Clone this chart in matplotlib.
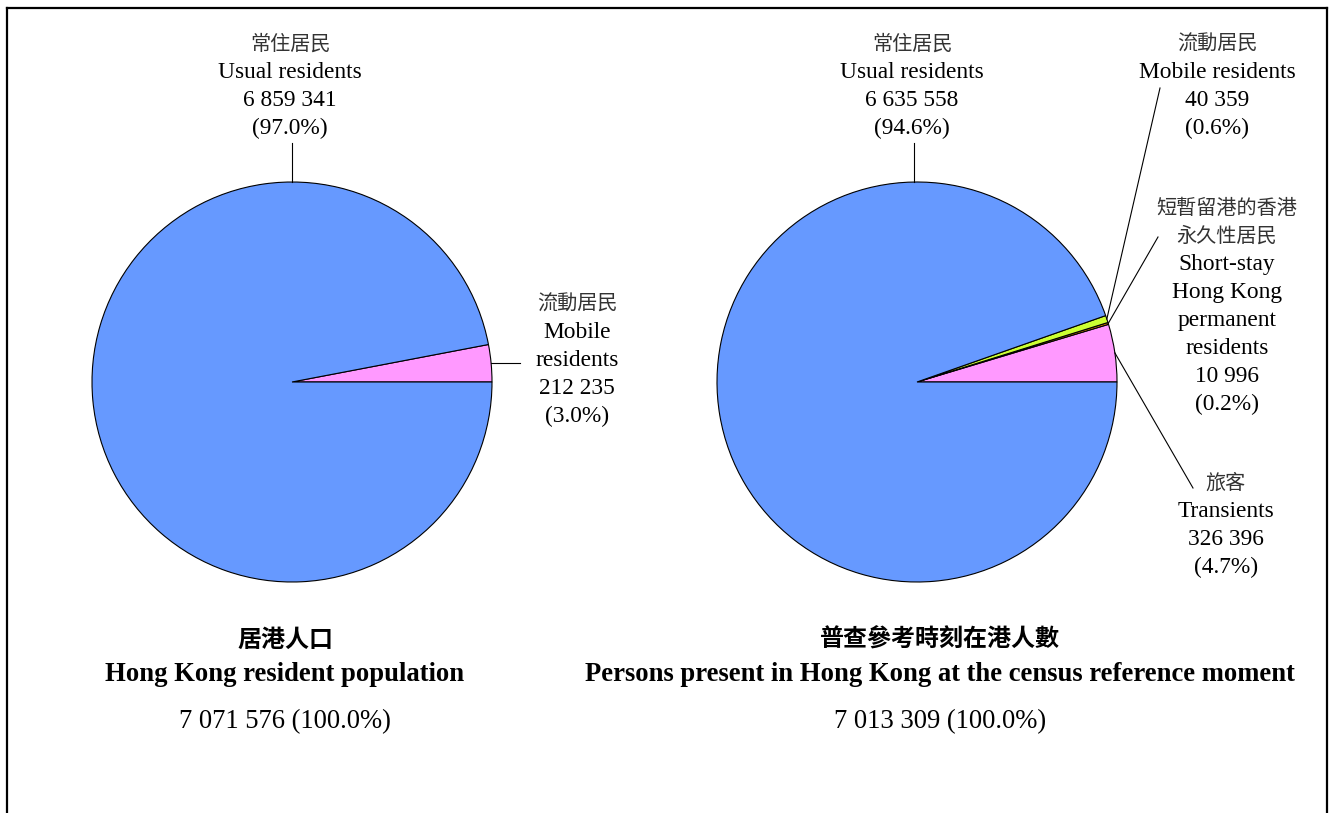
import numpy as np
import matplotlib.pyplot as plt
from matplotlib.lines import Line2D

# Resident population breakdown
left_zh = ['流動居民', '常住居民']
left_en = [['Mobile', 'residents'], ['Usual residents']]
left_values = [212235, 6859341]
left_colors = ['#FF99FF', '#6699FF']

# Persons present at the census reference moment
right_zh = [['旅客'], ['短暫留港的香港', '永久性居民'], ['流動居民'], ['常住居民']]
right_en = [['Transients'], ['Short-stay', 'Hong Kong', 'permanent', 'residents'],
            ['Mobile residents'], ['Usual residents']]
right_values = [326396, 10996, 40359, 6635558]
right_colors = ['#FF99FF', '#E08A00', '#CCFF33', '#6699FF']

titles_zh = ['居港人口', '普查參考時刻在港人數']
titles_en = ['Hong Kong resident population',
             'Persons present in Hong Kong at the census reference moment']

W, H = 1333, 813
SERIF = ['Liberation Serif', 'DejaVu Serif']
CJK = ['Noto Sans CJK TC', 'DejaVu Sans']
FS_ZH = 14.5     # chinese label lines
FS_EN = 16.8     # english label lines
FS_T = 19.2      # titles and totals
FS_TZH = 17.3
STEP = 28


def fmt(v):
    return f'{v:,}'.replace(',', ' ')


fig = plt.figure(figsize=(W / 100, H / 100), dpi=100)
ax = fig.add_axes([0, 0, 1, 1])


def draw_pie(values, colors, cx, cy, r):
    # y axis is inverted, so run clockwise to keep counter-clockwise on screen
    ax.pie(values, colors=colors, center=(cx, cy), radius=r, startangle=0,
           counterclock=False, frame=True,
           wedgeprops=dict(edgecolor='black', linewidth=0.8))
    ax.set_xlim(0, W)
    ax.set_ylim(H, 0)
    ax.axis('off')
    total = sum(values)
    ang = np.cumsum([0] + list(values)) / total * 360
    mids = (ang[:-1] + ang[1:]) / 2
    return [(cx + r * np.cos(np.radians(m)), cy - r * np.sin(np.radians(m)))
            for m in mids]


def label(x, y, zh_lines, en_lines, value, total):
    lines = [(t, CJK, '#333333', FS_ZH) for t in zh_lines]
    lines += [(t, SERIF, 'black', FS_EN) for t in en_lines]
    lines += [(fmt(value), SERIF, 'black', FS_EN),
              (f'({value / total * 100:.1f}%)', SERIF, 'black', FS_EN)]
    for i, (t, fam, c, fs) in enumerate(lines):
        ax.text(x, y + i * STEP, t, ha='center', va='center', fontsize=fs,
                family=fam, color=c)


def leader(p0, p1):
    ax.plot([p0[0], p1[0]], [p0[1], p1[1]], color='black', lw=0.8)


# left pie
lc, lr = (292, 382), 200
lpts = draw_pie(left_values, left_colors, *lc, lr)
ltot = sum(left_values)
leader((lc[0], lc[1] - lr), (lc[0], 143))
label(290, 44, [left_zh[1]], left_en[1], left_values[1], ltot)
leader(lpts[0], (520, lpts[0][1]))
label(577, 304, [left_zh[0]], left_en[0], left_values[0], ltot)

# right pie
rc, rr = (917, 382), 200
rpts = draw_pie(right_values, right_colors, *rc, rr)
rtot = sum(right_values)
leader((rc[0] - 3, rc[1] - rr), (rc[0] - 3, 143))
label(912, 44, right_zh[3], right_en[3], right_values[3], rtot)
leader(rpts[2], (1160, 88))
label(1217, 44, right_zh[2], right_en[2], right_values[2], rtot)
leader(rpts[1], (1158, 237))
label(1227, 208, right_zh[1], right_en[1], right_values[1], rtot)
leader(rpts[0], (1193, 488))
label(1226, 483, right_zh[0], right_en[0], right_values[0], rtot)

# titles and totals
for x, zh, en, tot in [(285, titles_zh[0], titles_en[0], ltot),
                       (940, titles_zh[1], titles_en[1], rtot)]:
    ax.text(x, 640, zh, ha='center', va='center', fontsize=FS_TZH, family=CJK,
            fontweight='bold')
    ax.text(x, 674, en, ha='center', va='center', fontsize=FS_T, family=SERIF,
            fontweight='bold')
    ax.text(x, 722, f'{fmt(tot)} (100.0%)', ha='center', va='center',
            fontsize=FS_T, family=SERIF)

# open frame: left, top and right edges
for xs, ys in [([7.5, 7.5], [H, 8]), ([7.5, 1326.5], [8, 8]),
               ([1326.5, 1326.5], [8, H])]:
    fig.add_artist(Line2D(np.array(xs) / W, 1 - np.array(ys) / H,
                          color='black', lw=1.6))

fig.savefig('out.png', dpi=100)
